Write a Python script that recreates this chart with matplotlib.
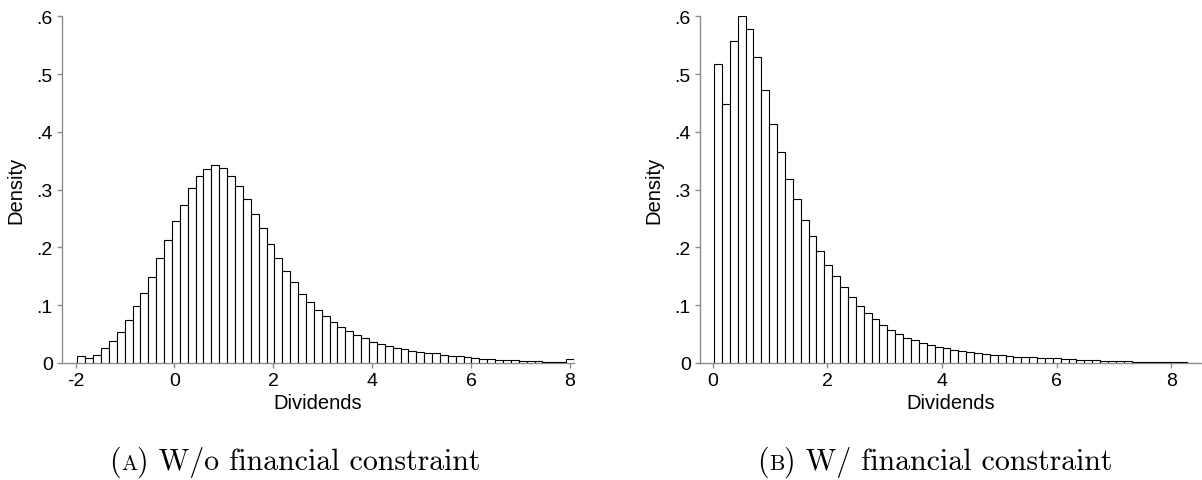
import matplotlib
matplotlib.use("Agg")
import matplotlib.pyplot as plt
import numpy as np

# histogram bar heights (density)
dens_nofc = [0.0115, 0.0087, 0.0144, 0.0265, 0.038, 0.0536, 0.075, 0.0986, 0.1205, 0.149,
             0.181, 0.212, 0.245, 0.274, 0.302, 0.324, 0.336, 0.342, 0.337, 0.324,
             0.307, 0.283, 0.258, 0.233, 0.206, 0.181, 0.159, 0.140, 0.120, 0.105,
             0.0925, 0.0807, 0.0704, 0.0617, 0.0548, 0.0484, 0.0427, 0.0369, 0.0334, 0.030,
             0.0265, 0.0236, 0.0213, 0.0196, 0.0179, 0.0167, 0.0144, 0.0121, 0.0115, 0.0098,
             0.0087, 0.0075, 0.0063, 0.0058, 0.005, 0.0046, 0.004, 0.0035, 0.003, 0.0025,
             0.002, 0.0015, 0.0075]
dens_fc = [0.517, 0.449, 0.557, 0.600, 0.578, 0.529, 0.472, 0.4135, 0.3645, 0.318,
           0.283, 0.248, 0.220, 0.194, 0.170, 0.151, 0.131, 0.114, 0.0986, 0.0865,
           0.0755, 0.065, 0.0577, 0.0507, 0.0438, 0.0392, 0.0352, 0.0317, 0.0282, 0.026,
           0.0233, 0.0213, 0.0196, 0.0173, 0.0161, 0.0144, 0.0133, 0.0121, 0.011, 0.0104,
           0.0098, 0.0092, 0.0087, 0.0081, 0.0069, 0.0063, 0.0058,
           0.0052, 0.0047, 0.0042, 0.0037, 0.0033, 0.0029, 0.0025, 0.0022, 0.0019,
           0.0016, 0.0013, 0.0011, 0.0009, 0.0007]

start_nofc, width_nofc = -1.964, 0.1595
start_fc, width_fc = 0.026, 0.1374

xticks_nofc = [-2, 0, 2, 4, 6, 8]
xticks_fc = [0, 2, 4, 6, 8]
yticks = [0, 0.1, 0.2, 0.3, 0.4, 0.5, 0.6]
ytick_labels = ['0', '.1', '.2', '.3', '.4', '.5', '.6']

plt.rcParams['font.family'] = ['Liberation Sans', 'DejaVu Sans']

fig = plt.figure(figsize=(12.02, 4.81), dpi=100)
ax1 = fig.add_axes([62/1202, 1-364/481, 512/1202, 346.7/481])
ax2 = fig.add_axes([700/1202, 1-364/481, 502/1202, 346.7/481])


def draw_hist(ax, heights, start, width, xticks, xlim):
    edges = start + width*np.arange(len(heights))
    ax.bar(edges, heights, width=width, align='edge', color='white',
           edgecolor='black', linewidth=0.8, zorder=3)
    ax.set_xlim(*xlim)
    ax.set_ylim(0, 0.6)
    ax.set_xticks(xticks)
    ax.set_xticklabels([str(t) for t in xticks])
    ax.set_yticks(yticks)
    ax.set_yticklabels(ytick_labels)
    for s in ['top', 'right']:
        ax.spines[s].set_visible(False)
    for s in ['left', 'bottom']:
        ax.spines[s].set_color('#8c8c8c')
        ax.spines[s].set_linewidth(1.0)
    ax.tick_params(direction='out', length=3.5, width=1.0, color='#8c8c8c',
                   labelsize=14, pad=3)
    ax.set_xlabel('Dividends', fontsize=14.5, labelpad=3)
    ax.set_ylabel('Density', fontsize=14.5, labelpad=8)
    ax.patch.set_visible(False)


draw_hist(ax1, dens_nofc, start_nofc, width_nofc, xticks_nofc, (-2.274, 8.085))
draw_hist(ax2, dens_fc, start_fc, width_fc, xticks_fc, (-0.218, 8.535))

# captions in a serif face, with small-caps style panel letter
fig.canvas.draw()
renderer = fig.canvas.get_renderer()


def caption(cx, y, pieces):
    texts = []
    x = 0
    for txt, size in pieces:
        t = fig.text(x, y, txt, fontsize=size, family='cmr10',
                     va='baseline', ha='left', transform=None)
        bb = t.get_window_extent(renderer)
        texts.append((t, x))
        x += bb.width
    shift = cx - x/2
    for t, x0 in texts:
        t.set_x(x0 + shift)


caption(295, 481-470, [('(', 21.5), ('A', 15.5), (') W/o financial constraint', 21.5)])
caption(935, 481-470, [('(', 21.5), ('B', 15.5), (') W/ financial constraint', 21.5)])

fig.savefig('out.png', dpi=100)
